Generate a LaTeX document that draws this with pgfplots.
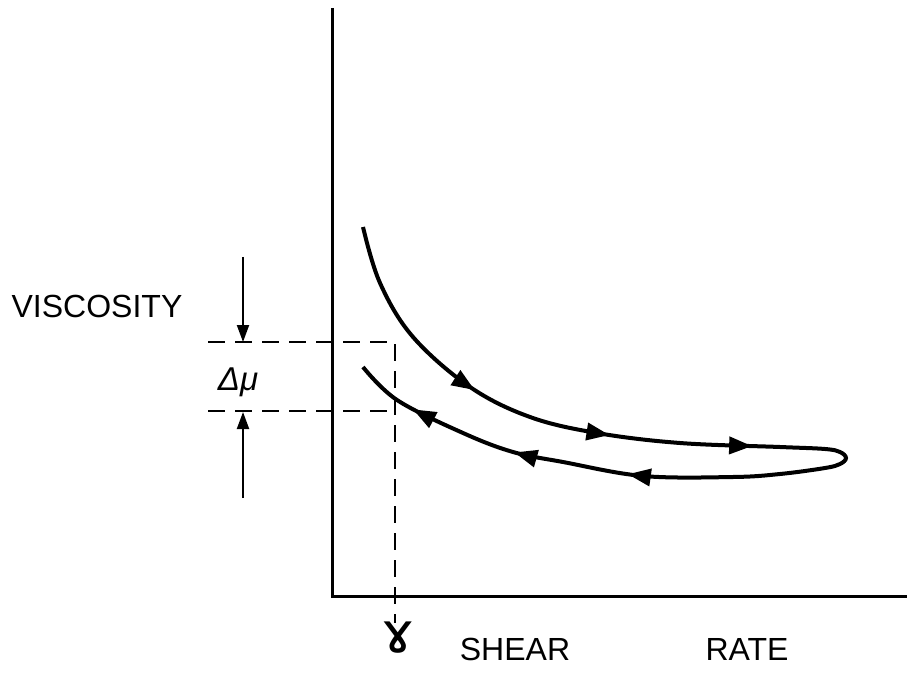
\documentclass[border=0pt]{standalone}
\usepackage{pgfplots}
\pgfplotsset{compat=1.18}
\usepackage{fontspec}
\setmainfont{Liberation Sans}
\newfontfamily\symfont{DejaVu Sans}
\usetikzlibrary{arrows.meta,decorations.markings}

\begin{document}
\begin{tikzpicture}
\begin{axis}[
    scale only axis,
    width=454pt, height=336.5pt,
    xmin=0, xmax=908, ymin=0, ymax=673,
    y dir=reverse,
    axis lines=none,
    clip=false,
]
% axes
\draw[line width=1.5pt, line join=miter] (axis cs:332,8) -- (axis cs:332,596) -- (axis cs:907,596);

% dashed guide lines
\draw[line width=1pt, dash pattern=on 8.5pt off 5pt] (axis cs:208,342) -- (axis cs:395,342) -- (axis cs:395,623);
\draw[line width=1pt, dash pattern=on 8.5pt off 5pt] (axis cs:208,411) -- (axis cs:395,411);

% delta mu arrows
\draw[line width=1pt, -{Triangle[length=8.5pt,width=6pt]}] (axis cs:243,257) -- (axis cs:243,342);
\draw[line width=1pt, -{Triangle[length=8.5pt,width=6pt]}] (axis cs:243,498) -- (axis cs:243,412);

% hysteresis loop
\addplot[line width=2pt, smooth, tension=0.6,
    postaction={decorate},
    decoration={markings,
        mark=at position 0.185 with {\arrow{Triangle[length=11.5pt,width=8.5pt]}},
        mark=at position 0.315 with {\arrow{Triangle[length=11.5pt,width=8.5pt]}},
        mark=at position 0.445 with {\arrow{Triangle[length=11.5pt,width=8.5pt]}},
        mark=at position 0.735 with {\arrow{Triangle[length=11.5pt,width=8.5pt]}},
        mark=at position 0.84 with {\arrow{Triangle[length=11.5pt,width=8.5pt]}},
        mark=at position 0.94 with {\arrow{Triangle[length=11.5pt,width=8.5pt]}}}]
coordinates {
(363,227)(380,283)(413,337)(470,387)(530,417)(597,433)(680,443)(780,447)
(825,449)(840,452)(846,458)(840,464)(825,468)(780,474)(733,477)(643,476)
(563,462)(513,452)(463,433)(397,400)(363,367)
};

% labels
\node[anchor=base, font=\fontsize{16}{19}\selectfont] at (axis cs:97,317) {VISCOSITY};
\node[anchor=base, font=\fontsize{16.5}{19}\selectfont\itshape] at (axis cs:238,390) {Δμ};
\node[anchor=base, font=\fontsize{16}{19}\selectfont] at (axis cs:515,660) {SHEAR};
\node[anchor=base, font=\fontsize{16}{19}\selectfont] at (axis cs:747,660) {RATE};
\node[font=\fontsize{28}{30}\selectfont\symfont] at (axis cs:398,638) {ɤ};
\end{axis}
\pgfresetboundingbox
\useasboundingbox (current axis.south west) rectangle (current axis.north east);
\end{tikzpicture}
\end{document}
